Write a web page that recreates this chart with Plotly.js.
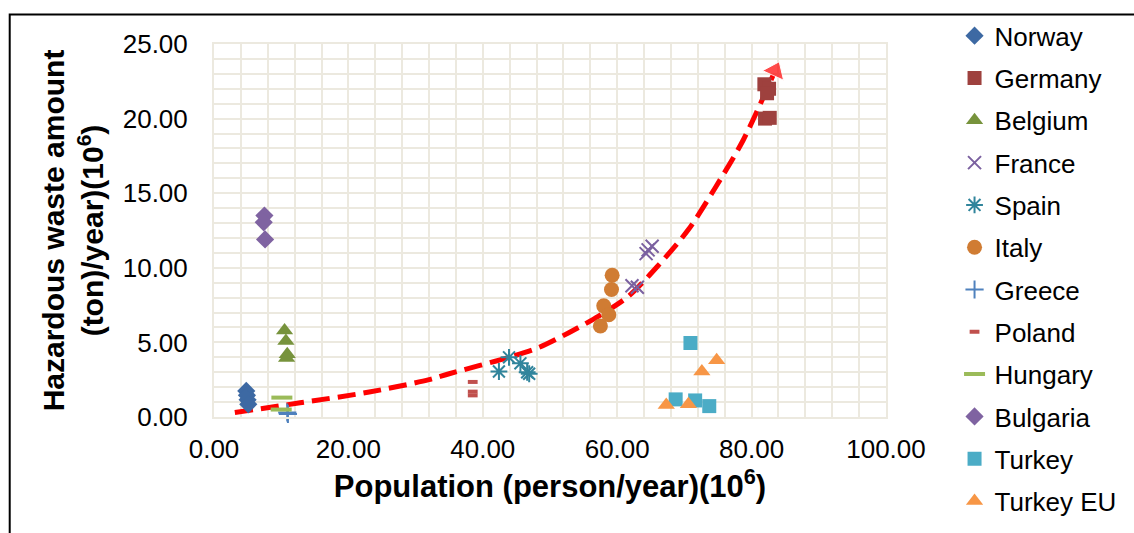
<!DOCTYPE html>
<html>
<head>
<meta charset="utf-8">
<script src="https://cdn.plot.ly/plotly-3.0.1.min.js"></script>
<style>
  html, body { margin: 0; padding: 0; background: #ffffff; }
  #chart { width: 1134px; height: 533px; }
</style>
</head>
<body>
<div id="chart"></div>
<script>
// Population (million) vs hazardous waste (million ton/year) per country
const norwayX   = [4.8, 4.9, 5.0, 5.1];
const norwayY   = [1.75, 1.45, 1.15, 0.85];
const germanyX  = [81.9, 82.6, 82.3, 82.0, 82.7];
const germanyY  = [22.3, 22.0, 21.7, 20.0, 20.05];
const belgiumX  = [10.5, 10.7, 10.9, 10.8];
const belgiumY  = [5.8, 5.1, 4.2, 3.95];
const franceX   = [62.2, 63.0, 64.3, 64.6, 65.2];
const franceY   = [8.8, 8.7, 10.95, 11.2, 11.45];
const spainX    = [42.4, 43.9, 45.6, 46.6, 46.9];
const spainY    = [3.05, 4.0, 3.6, 3.0, 2.9];
const italyX    = [57.5, 58.0, 58.75, 59.15, 59.25];
const italyY    = [6.1, 7.45, 6.85, 8.55, 9.5];
const greeceX   = [10.9, 11.0];
const greeceY   = [0.3, 0.2];
const polandX   = [38.5, 38.5, 38.5];
const polandY   = [2.35, 1.7, 1.45];
const hungaryX  = [10.1, 10.0];
const hungaryY  = [1.3, 0.5];
const bulgariaX = [7.5, 7.4, 7.6];
const bulgariaY = [13.5, 13.05, 11.9];
const turkeyX   = [70.9, 68.7, 71.6, 73.7];
const turkeyY   = [4.96, 1.18, 1.11, 0.73];
const turkeyEuX = [74.8, 72.6, 67.3, 70.6, 68.9];
const turkeyEuY = [3.8, 3.05, 0.8, 0.85, -0.1];

// Trend curve through the cloud, ending in an arrowhead
const trendX = [3.1, 12.8, 23.1, 32.0, 35.0, 43.9, 48.4, 52.8, 57.3, 61.7, 66.2, 70.6, 74.5, 78.8, 83.2];
const trendY = [0.3, 0.95, 1.67, 2.5, 2.9, 4.0, 4.67, 5.65, 6.78, 8.1, 10.2, 12.56, 15.3, 18.6, 22.9];
const arrowX = [83.2, 83.5];
const arrowY = [22.9, 23.2];

const xTicks = [0, 20, 40, 60, 80, 100];
const yTicks = [0, 5, 10, 15, 20, 25];

const FONT = 'Liberation Sans, Arial, sans-serif';
const GRID = '#ECE9DF';

function series(name, x, y, marker, group) {
  return { type: 'scatter', mode: 'markers', name: name, x: x, y: y,
           marker: marker, legendgroup: group, cliponaxis: false };
}

const traces = [
  { type: 'scatter', mode: 'lines', x: trendX, y: trendY, showlegend: false,
    line: { color: '#FF0000', width: 5, dash: '18px,8px', shape: 'spline', smoothing: 0.8 },
    hoverinfo: 'skip' },
  { type: 'scatter', mode: 'markers', x: arrowX, y: arrowY, showlegend: false,
    marker: { symbol: 'triangle-up', size: [0, 20], color: '#FF0000', angleref: 'previous' },
    hoverinfo: 'skip' },
  series('Norway',    norwayX,   norwayY,   { symbol: 'diamond', size: 14, color: '#3D69A3' }, 'g1'),
  series('Germany',   germanyX,  germanyY,  { symbol: 'square', size: 14, color: '#9E413E' }, 'g2'),
  series('Belgium',   belgiumX,  belgiumY,  { symbol: 'triangle-up', size: 15, color: '#77933C' }, 'g3'),
  series('France',    franceX,   franceY,   { symbol: 'x-thin', size: 13, color: '#7B61A0',
                                              line: { color: '#7B61A0', width: 2 } }, 'g4'),
  series('Spain',     spainX,    spainY,    { symbol: 'asterisk', size: 14, color: '#31859C',
                                              line: { color: '#31859C', width: 2 } }, 'g5'),
  series('Italy',     italyX,    italyY,    { symbol: 'circle', size: 15, color: '#D07C33' }, 'g6'),
  series('Greece',    greeceX,   greeceY,   { symbol: 'cross-thin', size: 13, color: '#4F81BD',
                                              line: { color: '#4F81BD', width: 2 } }, 'g7'),
  series('Poland',    polandX,   polandY,   { symbol: 'line-ew', size: 7, color: '#C0504D',
                                              line: { color: '#C0504D', width: 4 } }, 'g8'),
  series('Hungary',   hungaryX,  hungaryY,  { symbol: 'line-ew', size: 15, color: '#9BBB59',
                                              line: { color: '#9BBB59', width: 4 } }, 'g9'),
  series('Bulgaria',  bulgariaX, bulgariaY, { symbol: 'diamond', size: 14, color: '#7F63A1' }, 'g10'),
  series('Turkey',    turkeyX,   turkeyY,   { symbol: 'square', size: 14, color: '#4BACC6' }, 'g11'),
  series('Turkey EU', turkeyEuX, turkeyEuY, { symbol: 'triangle-up', size: 15, color: '#F79646' }, 'g12')
];

const layout = {
  width: 1134, height: 533,
  margin: { l: 214, r: 246, t: 42, b: 116 },
  paper_bgcolor: '#ffffff', plot_bgcolor: '#ffffff',
  font: { family: FONT, size: 26, color: '#000000' },
  showlegend: true,
  legend: {
    x: 1.102, xanchor: 'left', y: 1.085, yanchor: 'top',
    font: { family: FONT, size: 26, color: '#000000' },
    tracegroupgap: 5.5, bgcolor: 'rgba(0,0,0,0)', borderwidth: 0,
    maxheight: 600
  },
  xaxis: {
    range: [0, 100], tickvals: xTicks, tickformat: '.2f',
    showgrid: true, gridcolor: GRID, gridwidth: 2,
    minor: { dtick: 4, showgrid: true, gridcolor: GRID, gridwidth: 2 },
    zeroline: false, showline: true, mirror: true, linecolor: GRID, linewidth: 2,
    ticks: '', ticklabelstandoff: 8,
    tickfont: { family: FONT, size: 26, color: '#000000' },
    title: { text: '<b>Population (person/year)(10<sup>6</sup>)</b>',
             font: { family: FONT, size: 31, color: '#000000' }, standoff: 8 }
  },
  yaxis: {
    range: [0, 25], tickvals: yTicks, tickformat: '.2f',
    showgrid: true, gridcolor: GRID, gridwidth: 2,
    minor: { dtick: 1, showgrid: true, gridcolor: GRID, gridwidth: 2 },
    zeroline: false, showline: true, mirror: true, linecolor: GRID, linewidth: 2,
    ticks: '', ticklabelstandoff: 19,
    tickfont: { family: FONT, size: 26, color: '#000000' },
    title: { text: '<b>Hazardous waste amount<br>(ton)/year)(10<sup>6</sup>)</b>',
             font: { family: FONT, size: 30, color: '#000000' }, standoff: 10 }
  },
  shapes: [
    { type: 'rect', xref: 'paper', yref: 'paper',
      x0: -0.304, x1: 1.38, y0: -0.34, y1: 1.079,
      line: { color: '#000000', width: 2 }, fillcolor: 'rgba(0,0,0,0)', layer: 'above' }
  ]
};

Plotly.newPlot('chart', traces, layout, { displayModeBar: false, staticPlot: true });
</script>
</body>
</html>
